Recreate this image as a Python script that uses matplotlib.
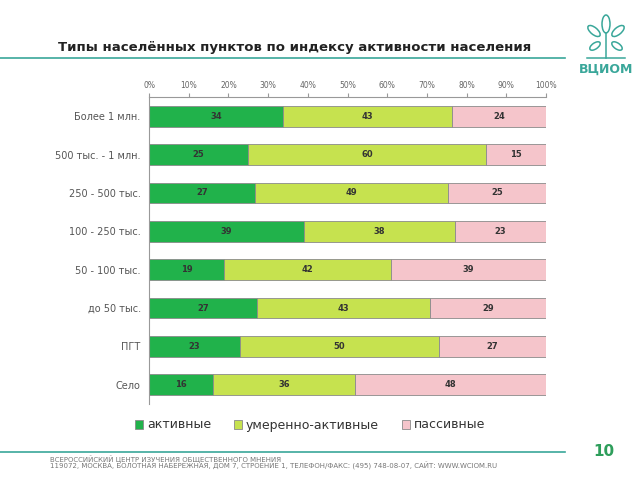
import numpy as np
import matplotlib.pyplot as plt
from matplotlib.patches import Ellipse

categories = ["Более 1 млн.", "500 тыс. - 1 млн.", "250 - 500 тыс.", "100 - 250 тыс.",
              "50 - 100 тыс.", "до 50 тыс.", "ПГТ", "Село"]
active = [34, 25, 27, 39, 19, 27, 23, 16]
moderate = [43, 60, 49, 38, 42, 43, 50, 36]
passive = [24, 15, 25, 23, 39, 29, 27, 48]
series_names = ["активные", "умеренно-активные", "пассивные"]
xticks = [0, 10, 20, 30, 40, 50, 60, 70, 80, 90, 100]

colors = ["#21B24B", "#C6E24F", "#F5C5CB"]
teal = "#3AA79A"

fig = plt.figure(figsize=(6.4, 4.8), dpi=100)
ax = fig.add_axes([149/640, 1 - 404/480, (546 - 149)/640, (404 - 97)/480])

y = np.arange(len(categories))
series = [active, moderate, passive]
totals = np.array(active) + np.array(moderate) + np.array(passive)
left = np.zeros(len(categories))
for vals, col, name in zip(series, colors, series_names):
    # 100% stacked: widths are shares of the row total
    widths = np.array(vals) / totals * 100
    bars = ax.barh(y, widths, left=left, height=0.54, color=col, edgecolor="#8a8a8a",
                   linewidth=0.6, label=name)
    for b, v in zip(bars, vals):
        ax.text(b.get_x() + b.get_width() / 2, b.get_y() + b.get_height() / 2, str(v),
                ha="center", va="center", fontsize=6, fontweight="bold", color="#333333")
    left = left + widths

ax.set_xlim(0, 100)
ax.set_ylim(len(categories) - 0.5, -0.5)
ax.xaxis.tick_top()
ax.set_xticks(xticks)
ax.set_xticklabels([f"{t}%" for t in xticks], fontsize=5.5, color="#666666")
ax.tick_params(axis="x", length=3, color="#999999", pad=2)
ax.set_yticks(y)
ax.set_yticklabels(categories, fontsize=7, color="#555555")
ax.tick_params(axis="y", length=0, pad=6)
for s in ["right", "bottom"]:
    ax.spines[s].set_visible(False)
ax.spines["top"].set_color("#999999")
ax.spines["left"].set_color("#999999")
ax.spines["top"].set_linewidth(0.8)
ax.spines["left"].set_linewidth(0.8)

leg = fig.legend(loc="center", bbox_to_anchor=(310/640, 1 - 425/480), ncol=3, frameon=False,
                 fontsize=9, handlelength=0.7, handleheight=0.7, handletextpad=0.3,
                 columnspacing=1.8)
for t in leg.get_texts():
    t.set_color("#333333")

# title and decorations
fig.text(295/640, 1 - 47/480, "Типы населённых пунктов по индексу активности населения",
         ha="center", va="center", fontsize=9.5, fontweight="bold", color="#222222")
fig.add_artist(plt.Line2D([0, 565/640], [1 - 58/480, 1 - 58/480], color=teal, linewidth=1.2))
fig.add_artist(plt.Line2D([0, 565/640], [1 - 452/480, 1 - 452/480], color=teal, linewidth=1.2))
fig.text(604/640, 1 - 452/480, "10", ha="center", va="center", fontsize=11,
         fontweight="bold", color="#2E9E5B")
fig.text(50/640, 1 - 459/480, "ВСЕРОССИЙСКИЙ ЦЕНТР ИЗУЧЕНИЯ ОБЩЕСТВЕННОГО МНЕНИЯ",
         fontsize=5, color="#777777", va="center")
fig.text(50/640, 1 - 466/480,
         "119072, МОСКВА, БОЛОТНАЯ НАБЕРЕЖНАЯ, ДОМ 7, СТРОЕНИЕ 1, ТЕЛЕФОН/ФАКС: (495) 748-08-07, САЙТ: WWW.WCIOM.RU",
         fontsize=5, color="#777777", va="center")

# logo
fig.text(606/640, 1 - 69/480, "ВЦИОМ", ha="center", va="center", fontsize=9,
         fontweight="bold", color=teal)
lax = fig.add_axes([575/640, 1 - 60/480, 62/640, 48/480])
lax.set_xlim(0, 62)
lax.set_ylim(0, 48)
lax.axis("off")
for (cx, cy, w, h, a) in [(31, 36, 8, 18, 0), (19, 29, 7, 15, 50), (43, 29, 7, 15, -50),
                          (20, 14, 6, 12, -55), (42, 14, 6, 12, 55)]:
    lax.add_patch(Ellipse((cx, cy), w, h, angle=a, fill=False, edgecolor=teal, linewidth=1.1))
lax.plot([31, 31], [2, 27], color=teal, linewidth=1.1)
lax.plot([12, 50], [2, 2], color=teal, linewidth=1.1)

plt.savefig("out.png", dpi=100)
